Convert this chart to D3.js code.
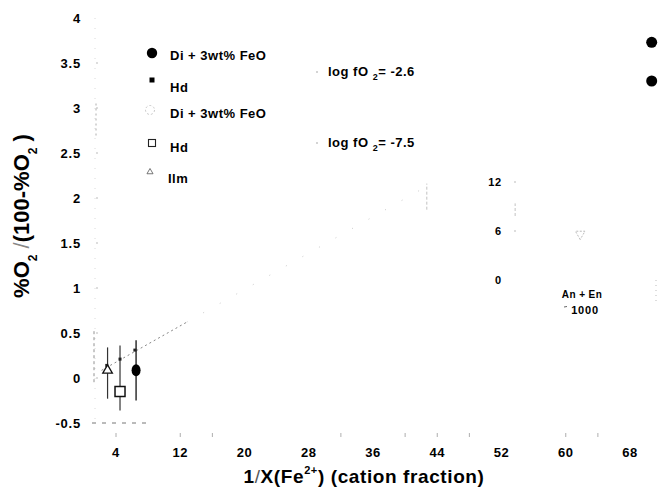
<!DOCTYPE html>
<html>
<head>
<meta charset="utf-8">
<script src="https://cdn.jsdelivr.net/npm/d3@7"></script>
<style>
  html, body { margin: 0; padding: 0; background: #fff; }
  svg { display: block; font-family: "Liberation Sans", Arial, Helvetica, sans-serif; font-weight: bold; }
</style>
</head>
<body>
<svg id="chart" width="672" height="487"></svg>
<script>
// ---------------- data ----------------
const xTickValues = [4, 12, 20, 28, 36, 44, 52, 60, 68];
const xMinorTicks = [4, 12, 16, 32, 40, 44, 48, 60, 64];
const yTickValues = [-0.5, 0, 0.5, 1, 1.5, 2, 2.5, 3, 3.5, 4];
const yTickLabels = ["-0.5", "0", "0.5", "1", "1.5", "2", "2.5", "3", "3.5", "4"];

// Di + 3wt% FeO, log fO2 = -2.6 (filled circles)
const diHighX = [6.5, 70.7, 70.7];
const diHighY = [0.085, 3.73, 3.30];
const diHighLo = [-0.25, null, null];
const diHighHi = [0.42, null, null];

// Hd, log fO2 = -2.6 (small filled squares)
const hdHighX = [2.85, 4.5, 6.35];
const hdHighY = [0.14, 0.21, 0.31];

// Hd, log fO2 = -7.5 (open squares)
const hdLowX = [4.5];
const hdLowY = [-0.15];
const hdLowLo = [-0.36];
const hdLowHi = [0.36];

// Ilm (open triangles)
const ilmX = [2.95];
const ilmY = [0.085];
const ilmLo = [-0.23];
const ilmHi = [0.34];

// Fitted line through the low-X points
const fitX = [2.2, 12.8, 42.7];
const fitY = [0.085, 0.62, 2.13];

// faint features further out
const faintBarX = [42.7, 53.7];
const faintBarLo = [1.87, 1.80];
const faintBarHi = [2.16, 1.94];
const invTriX = [61.8];
const invTriY = [1.6];

// inset scale labels
const insetTicks = [0, 6, 12];

const legendLabels = ["Di + 3wt% FeO", "Hd", "Di + 3wt% FeO", "Hd", "Ilm"];
const legendKinds = ["fcircle", "fsquare", "ocircle", "osquare", "otri"];
const fo2Labels = ["-2.6", "-7.5"];

// ---------------- drawing ----------------
const svg = d3.select("#chart");
const x = d3.scaleLinear().domain([4, 68]).range([116, 630]);
const y = d3.scaleLinear().domain([-0.5, 4]).range([423, 18]);

// faint axes (scanned look)
svg.append("line").attr("x1", 95).attr("x2", 95).attr("y1", y(4)).attr("y2", y(-0.5))
  .attr("stroke", "#d0d0d0").attr("stroke-width", 0.8).attr("stroke-dasharray", "1,9");
svg.append("line").attr("x1", 94).attr("x2", 94).attr("y1", y(0.52)).attr("y2", y(-0.08))
  .attr("stroke", "#777").attr("stroke-width", 0.8).attr("stroke-dasharray", "3,3");
svg.append("line").attr("x1", 96).attr("x2", 96).attr("y1", y(3.05)).attr("y2", y(2.68))
  .attr("stroke", "#999").attr("stroke-width", 0.8).attr("stroke-dasharray", "2,3");
svg.append("line").attr("x1", 92).attr("x2", 148).attr("y1", y(-0.5)).attr("y2", y(-0.5))
  .attr("stroke", "#666").attr("stroke-width", 0.9).attr("stroke-dasharray", "4,6");

// y ticks marks
svg.selectAll(".ytm").data(yTickValues.filter(v => v > -0.5 && v < 4)).enter().append("line")
  .attr("x1", 96).attr("x2", 98).attr("y1", d => y(d)).attr("y2", d => y(d))
  .attr("stroke", "#aaa").attr("stroke-width", 0.8);

// x ticks marks
svg.selectAll(".xtm").data(xMinorTicks).enter().append("line")
  .attr("x1", d => x(d)).attr("x2", d => x(d)).attr("y1", 433).attr("y2", 437)
  .attr("stroke", "#999").attr("stroke-width", 0.8);

// y tick labels
svg.selectAll(".ytl").data(yTickValues).enter().append("text")
  .attr("x", 81).attr("y", d => y(d)).attr("dy", "0.36em")
  .attr("text-anchor", "end").attr("font-size", 13).attr("letter-spacing", 0.8)
  .text((d, i) => yTickLabels[i]);

// x tick labels
svg.selectAll(".xtl").data(xTickValues).enter().append("text")
  .attr("x", d => x(d)).attr("y", 457)
  .attr("text-anchor", "middle").attr("font-size", 13).attr("letter-spacing", 0.6)
  .text(d => d);

// x axis title
const xt = svg.append("text").attr("x", 364).attr("y", 483).attr("text-anchor", "middle")
  .attr("font-size", 19).attr("letter-spacing", 0.6);
xt.append("tspan").text("1");
xt.append("tspan").attr("font-weight", "normal").attr("fill", "#555").text("/");
xt.append("tspan").text("X(Fe");
xt.append("tspan").attr("font-size", 11).attr("dy", -9).text("2+");
xt.append("tspan").attr("dy", 9).text(") (cation fraction)");

// y axis title
const yt = svg.append("text").attr("transform", "translate(29,216) rotate(-90)")
  .attr("text-anchor", "middle").attr("font-size", 22);
yt.append("tspan").text("%O");
yt.append("tspan").attr("font-size", 12).attr("dy", 8).text("2");
yt.append("tspan").attr("dy", -8).text(" ");
yt.append("tspan").attr("font-weight", "normal").attr("fill", "#888").text("/");
yt.append("tspan").text("(100-%O");
yt.append("tspan").attr("font-size", 12).attr("dy", 8).text("2");
yt.append("tspan").attr("dy", -8).text(" )");

// fitted line
const line = d3.line().x(i => x(fitX[i])).y(i => y(fitY[i]));
svg.append("path").datum([0, 1]).attr("d", line)
  .attr("fill", "none").attr("stroke", "#777").attr("stroke-width", 0.9).attr("stroke-dasharray", "2,3");
svg.append("path").datum([1, 2]).attr("d", line)
  .attr("fill", "none").attr("stroke", "#bbb").attr("stroke-width", 0.8).attr("stroke-dasharray", "1,18");

// error bars
function errBars(xs, lo, hi, col, w, dash) {
  xs.forEach((xv, i) => {
    if (lo[i] == null) return;
    svg.append("line").attr("x1", x(xv)).attr("x2", x(xv)).attr("y1", y(lo[i])).attr("y2", y(hi[i]))
      .attr("stroke", col).attr("stroke-width", w).attr("stroke-dasharray", dash || null);
  });
}
errBars(ilmX, ilmLo, ilmHi, "#333", 1.2);
errBars(hdLowX, hdLowLo, hdLowHi, "#333", 1.2);
errBars(diHighX, diHighLo, diHighHi, "#222", 1.4);
errBars(faintBarX, faintBarLo, faintBarHi, "#bbb", 0.9, "3,2");

// small filled squares (Hd, -2.6)
svg.selectAll(".hdh").data(hdHighX).enter().append("rect")
  .attr("x", (d) => x(d) - 1.5).attr("y", (d, i) => y(hdHighY[i]) - 1.5)
  .attr("width", 3).attr("height", 3).attr("fill", "#222");

// Ilm triangles
const tri = d3.symbol().type(d3.symbolTriangle).size(40);
svg.selectAll(".ilm").data(ilmX).enter().append("path")
  .attr("d", tri).attr("transform", (d, i) => `translate(${x(d)},${y(ilmY[i])})`)
  .attr("fill", "#fff").attr("stroke", "#111").attr("stroke-width", 1.3);

// Hd open squares
svg.selectAll(".hdl").data(hdLowX).enter().append("rect")
  .attr("x", d => x(d) - 5).attr("y", (d, i) => y(hdLowY[i]) - 5)
  .attr("width", 10).attr("height", 10).attr("fill", "#fff").attr("stroke", "#111").attr("stroke-width", 1.5);

// Di filled circles
svg.selectAll(".dih").data(diHighX).enter().append("ellipse")
  .attr("cx", d => x(d)).attr("cy", (d, i) => y(diHighY[i]))
  .attr("rx", (d, i) => i === 0 ? 4.5 : 5.5).attr("ry", (d, i) => i === 0 ? 6 : 5.5)
  .attr("fill", "#000");

// inverted triangle (faint)
svg.selectAll(".inv").data(invTriX).enter().append("path")
  .attr("d", tri).attr("transform", (d, i) => `translate(${x(d)},${y(invTriY[i])}) rotate(180)`)
  .attr("fill", "none").attr("stroke", "#aaa").attr("stroke-width", 0.8).attr("stroke-dasharray", "2,1.5");

// legend
const legY = [53, 80, 110, 143, 172];
const legTextY = [60, 92, 118, 152, 183];
legendKinds.forEach((k, i) => {
  const cx = 152, cy = legY[i];
  if (k === "fcircle") svg.append("circle").attr("cx", cx).attr("cy", cy).attr("r", 5.2).attr("fill", "#000");
  if (k === "fsquare") svg.append("rect").attr("x", cx - 2.5).attr("y", cy - 2.5).attr("width", 5).attr("height", 5).attr("fill", "#000");
  if (k === "ocircle") svg.append("circle").attr("cx", cx - 2).attr("cy", cy).attr("r", 4.5).attr("fill", "none")
    .attr("stroke", "#bbb").attr("stroke-width", 0.8).attr("stroke-dasharray", "2,2");
  if (k === "osquare") svg.append("rect").attr("x", cx - 3.5).attr("y", cy - 3.5).attr("width", 7).attr("height", 7)
    .attr("fill", "none").attr("stroke", "#222").attr("stroke-width", 1.1);
  if (k === "otri") svg.append("path").attr("d", d3.symbol().type(d3.symbolTriangle).size(16))
    .attr("transform", `translate(${cx - 2},${cy})`).attr("fill", "none").attr("stroke", "#555").attr("stroke-width", 0.8);
  svg.append("text").attr("x", i === 4 ? 168 : 170).attr("y", legTextY[i]).attr("font-size", 13)
    .attr("letter-spacing", 0.5).text(legendLabels[i]);
});

// log fO2 labels
const foY = [76, 147];
fo2Labels.forEach((v, i) => {
  svg.append("circle").attr("cx", 317).attr("cy", foY[i] - 4).attr("r", 0.7).attr("fill", "#888");
  const t = svg.append("text").attr("x", 328).attr("y", foY[i]).attr("font-size", 13).attr("letter-spacing", 0.5);
  t.append("tspan").text("log fO ");
  t.append("tspan").attr("font-size", 9).attr("dy", 4).text("2");
  t.append("tspan").attr("dy", -4).text("= " + v);
});

// inset scale
const yi = d3.scaleLinear().domain([0, 12]).range([280, 182]);
svg.selectAll(".itl").data(insetTicks).enter().append("text")
  .attr("x", 502).attr("y", d => yi(d)).attr("dy", "0.36em").attr("text-anchor", "end")
  .attr("font-size", 11).attr("letter-spacing", 0.8).text(d => d);
svg.selectAll(".itm").data(insetTicks.filter(d => d > 0)).enter().append("line")
  .attr("x1", 514).attr("x2", 516).attr("y1", d => yi(d)).attr("y2", d => yi(d))
  .attr("stroke", "#aaa").attr("stroke-width", 0.8);
svg.append("text").attr("x", 582).attr("y", 298).attr("text-anchor", "middle")
  .attr("font-size", 10).attr("letter-spacing", 0.4).text("An + En");
svg.append("line").attr("x1", 564).attr("x2", 567).attr("y1", 307).attr("y2", 306.5).attr("stroke", "#555").attr("stroke-width", 0.9);
svg.append("text").attr("x", 585).attr("y", 314).attr("text-anchor", "middle")
  .attr("font-size", 11).attr("letter-spacing", 0.8).text("1000");
svg.append("line").attr("x1", 656).attr("x2", 656).attr("y1", 280).attr("y2", 304)
  .attr("stroke", "#aaa").attr("stroke-width", 0.8).attr("stroke-dasharray", "1,4");
</script>
</body>
</html>
